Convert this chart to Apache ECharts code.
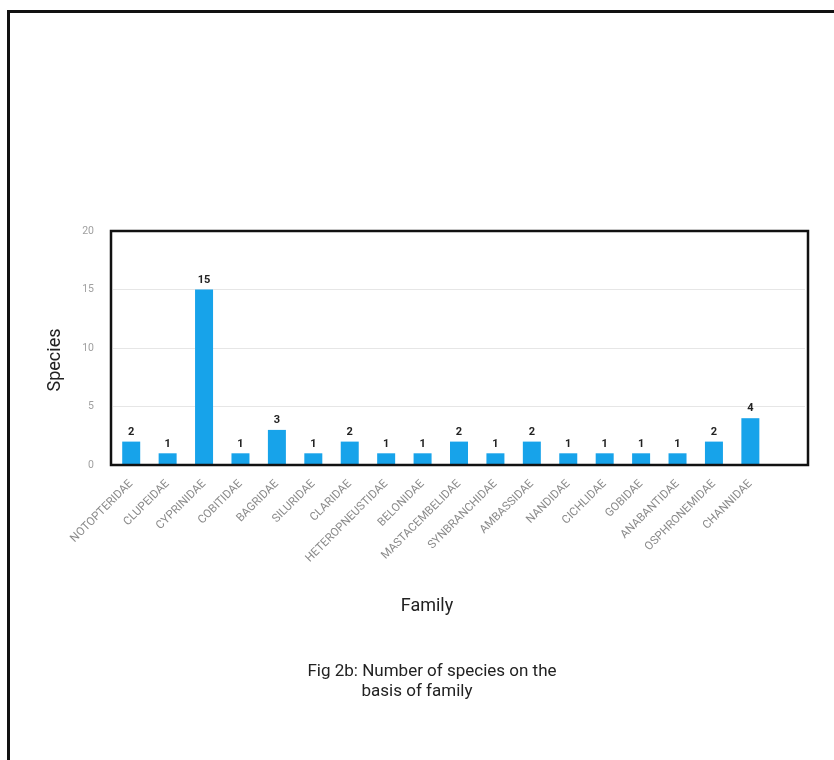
<!DOCTYPE html>
<html>
<head>
<meta charset="utf-8">
<script src="https://cdn.jsdelivr.net/npm/echarts@6/dist/echarts.min.js"></script>
<style>
  html, body { margin: 0; padding: 0; background: #fff; }
  #chart { width: 834px; height: 760px; }
</style>
</head>
<body>
<div id="chart"></div>
<script>
// Fish families and number of species recorded in each
const families = [
  'NOTOPTERIDAE', 'CLUPEIDAE', 'CYPRINIDAE', 'COBITIDAE', 'BAGRIDAE',
  'SILURIDAE', 'CLARIDAE', 'HETEROPNEUSTIDAE', 'BELONIDAE', 'MASTACEMBELIDAE',
  'SYNBRANCHIDAE', 'AMBASSIDAE', 'NANDIDAE', 'CICHLIDAE', 'GOBIDAE',
  'ANABANTIDAE', 'OSPHRONEMIDAE', 'CHANNIDAE'
];
const speciesCount = [2, 1, 15, 1, 3, 1, 2, 1, 1, 2, 1, 2, 1, 1, 1, 1, 2, 4];
const yTicks = { min: 0, max: 20, step: 5 };

const xTitle = 'Family';
const yTitle = 'Species';
const captionLine1 = 'Fig 2b: Number of species on the';
const captionLine2 = 'basis of family';

const chart = echarts.init(document.getElementById('chart'), null, { renderer: 'canvas' });

const font = 'Roboto, "Noto Sans", sans-serif';

chart.setOption({
  animation: false,
  backgroundColor: '#ffffff',
  grid: { left: 113, top: 231, width: 692, height: 234, containLabel: false },
  xAxis: {
    type: 'category',
    data: families,
    // one empty slot at the right end of the plot box
    max: families.length,
    axisLine: { show: false },
    axisTick: { show: false },
    axisLabel: {
      rotate: 45,
      interval: 0,
      margin: 17,
      color: '#8a8a8a',
      fontFamily: font,
      fontSize: 11.5
    },
    splitLine: { show: false }
  },
  yAxis: {
    type: 'value',
    min: yTicks.min,
    max: yTicks.max,
    interval: yTicks.step,
    axisLine: { show: false },
    axisTick: { show: false },
    axisLabel: { color: '#a0a0a0', fontFamily: font, fontSize: 10.5, margin: 19 },
    splitLine: { show: true, lineStyle: { color: '#e6e6e6', width: 1 } }
  },
  series: [{
    type: 'bar',
    data: speciesCount,
    barWidth: 18,
    itemStyle: { color: '#17a3ea' },
    label: {
      show: true,
      position: 'top',
      distance: 4,
      color: '#222',
      fontWeight: 'bold',
      fontFamily: font,
      fontSize: 11
    }
  }],
  graphic: [
    // page frame
    {
      type: 'rect', z: 100, silent: true,
      shape: { x: 8.5, y: 11.5, width: 900, height: 900 },
      style: { fill: null, stroke: '#111', lineWidth: 3 }
    },
    // plot box
    {
      type: 'rect', z: 100, silent: true,
      shape: { x: 111, y: 231, width: 697, height: 234 },
      style: { fill: null, stroke: '#111', lineWidth: 2.5 }
    },
    {
      type: 'text', z: 100, silent: true,
      x: 55, y: 360, rotation: Math.PI / 2,
      style: {
        x: 0, y: 0, text: yTitle, align: 'center', verticalAlign: 'middle',
        fill: '#222', font: '18px ' + font
      }
    },
    {
      type: 'text', z: 100, silent: true,
      style: {
        x: 427, y: 606, text: xTitle, align: 'center', verticalAlign: 'middle',
        fill: '#222', font: '18px ' + font
      }
    },
    {
      type: 'text', z: 100, silent: true,
      style: {
        x: 432, y: 672, text: captionLine1, align: 'center', verticalAlign: 'middle',
        fill: '#222', font: '17px ' + font
      }
    },
    {
      type: 'text', z: 100, silent: true,
      style: {
        x: 417, y: 692, text: captionLine2, align: 'center', verticalAlign: 'middle',
        fill: '#222', font: '17px ' + font
      }
    }
  ]
});
</script>
</body>
</html>
